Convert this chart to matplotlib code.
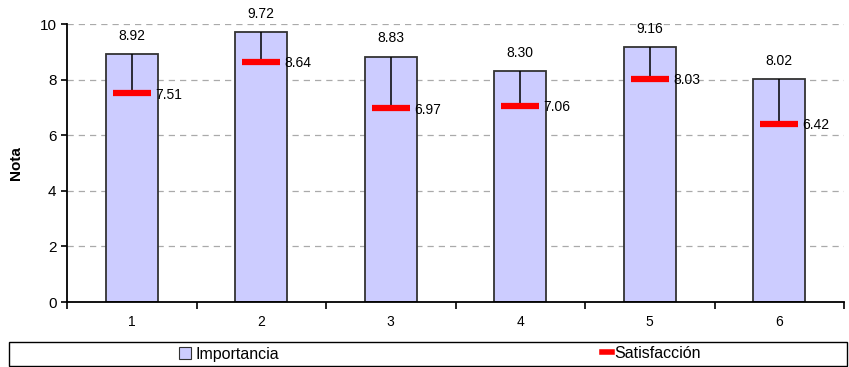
import matplotlib.pyplot as plt
from matplotlib.lines import Line2D
from matplotlib.patches import Patch, Rectangle
import numpy as np

plt.rcParams["font.family"] = ["Liberation Sans", "DejaVu Sans"]

# scores per item
items = ["1", "2", "3", "4", "5", "6"]
importancia = [8.92, 9.72, 8.83, 8.30, 9.16, 8.02]
satisfaccion = [7.51, 8.64, 6.97, 7.06, 8.03, 6.42]

bar_color = "#CCCCFF"
edge_color = "#333333"
red = "#FF0000"

fig = plt.figure(figsize=(8.49, 3.67), dpi=100)
ax = fig.add_axes([67 / 849, 65 / 367, 777 / 849, 278 / 367])

x = np.arange(1, len(items) + 1)
ax.bar(x, importancia, width=0.40, color=bar_color, edgecolor=edge_color,
       linewidth=1.3, zorder=2)

# drop line from importance down to satisfaction
ax.vlines(x, satisfaccion, importancia, color="black", linewidth=1.1, zorder=3)
ax.hlines(satisfaccion, x - 0.147, x + 0.147, color=red, linewidth=4.5, zorder=4)

for xi, imp, sat in zip(x, importancia, satisfaccion):
    ax.annotate(f"{imp:.2f}", (xi, imp), xytext=(0, 8), textcoords="offset points",
                ha="center", va="bottom", fontsize=10)
    ax.annotate(f"{sat:.2f}", (xi + 0.147, sat), xytext=(3, -1),
                textcoords="offset points", ha="left", va="center", fontsize=10)

ax.set_xlim(0.5, len(items) + 0.5)
ax.set_ylim(0, 10)
ax.set_yticks([0, 2, 4, 6, 8, 10])
ax.tick_params(axis="y", labelsize=11, length=4, width=1.2, direction="out")

# tick marks between categories, labels at centres
ax.set_xticks(np.arange(0.5, len(items) + 1, 1))
ax.set_xticklabels([])
ax.set_xticks(x, minor=True)
ax.set_xticklabels(items, minor=True, fontsize=10)
ax.tick_params(axis="x", which="major", length=5, width=1.2, direction="out")
ax.tick_params(axis="x", which="minor", length=0, pad=9)

ax.yaxis.grid(True, linestyle=(0, (5, 4)), color="#AAAAAA", linewidth=0.9, zorder=0)
ax.set_axisbelow(True)
for s in ["top", "right"]:
    ax.spines[s].set_visible(False)
for s in ["left", "bottom"]:
    ax.spines[s].set_linewidth(1.3)
    ax.spines[s].set_color("black")

ax.set_ylabel("Nota", fontsize=11, fontweight="bold", labelpad=12)

# legend strip below the plot
fig.patches.append(Rectangle((9 / 849, 1 / 367), 838 / 849, 24 / 367,
                             transform=fig.transFigure, fill=False,
                             edgecolor="black", linewidth=1.0))
h1 = Patch(facecolor=bar_color, edgecolor=edge_color, linewidth=0.8)
h2 = Line2D([0], [0], color=red, linewidth=4)
fig.legend([h1], ["Importancia"], loc="center left",
           bbox_to_anchor=(165 / 849, 13 / 367), frameon=False, fontsize=11.5,
           handlelength=0.7, handleheight=0.7, handletextpad=0.3)
fig.legend([h2], ["Satisfacción"], loc="center left",
           bbox_to_anchor=(588 / 849, 14 / 367), frameon=False, fontsize=11.5,
           handlelength=0.6, handletextpad=0.15)

fig.savefig("out.png", dpi=100)
